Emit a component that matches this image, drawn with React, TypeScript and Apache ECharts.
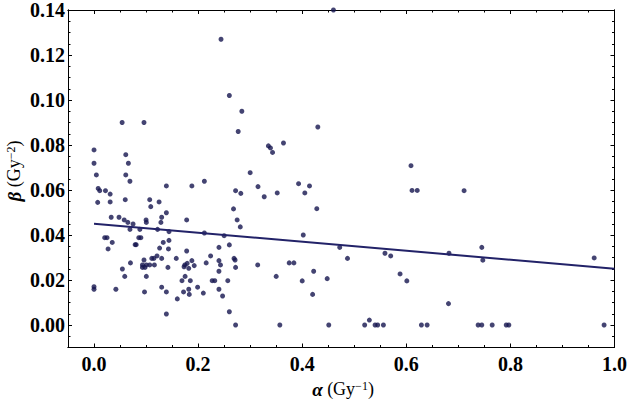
import React, { useEffect, useRef } from "react";
import * as echarts from "echarts";

const alpha = [
  0.244, 0.26, 0.284, 0.277, 0.054, 0.096, 0.335, 0.0, 0.061, 0.0, 0.066, 0.0045, 0.061, 0.3, 0.46, 0.43, 0.339, 0.343, 0.364, 0.609,
  0.327, 0.352, 0.393, 0.414, 0.405, 0.428, 0.611, 0.621, 0.402, 0.472, 0.487, 0.559, 0.57, 0.682, 0.375, 0.384, 0.35, 0.4, 0.422, 0.448,
  0.42, 0.588, 0.601, 0.681, 0.357, 0.451, 0.52, 0.529, 0.54, 0.545, 0.556, 0.629, 0.64,
  0.711, 0.745, 0.747, 0.961, 0.738, 0.745, 0.765, 0.792, 0.797, 0.98,
  0.069, 0.212, 0.008, 0.011, 0.022, 0.031, 0.139, 0.188, 0.315, 0.272, 0.282, 0.007, 0.031, 0.06, 0.107, 0.125, 0.109, 0.139, 0.268, 0.275,
  0.281, 0.033, 0.048, 0.058, 0.065, 0.075, 0.1, 0.1005, 0.13, 0.1285, 0.178, 0.069, 0.088, 0.122, 0.144, 0.212, 0.25, 0.0205, 0.025, 0.086,
  0.09, 0.027, 0.035, 0.079, 0.081, 0.133, 0.144, 0.143, 0.126, 0.24, 0.26, 0.178, 0.121, 0.111, 0.115, 0.13, 0.158, 0.096, 0.07, 0.224,
  0.24, 0.269, 0.271, 0.188, 0.2155, 0.093, 0.093, 0.098, 0.1005, 0.107, 0.116, 0.142, 0.173, 0.1745, 0.179, 0.182, 0.1925, 0.243, 0.272, 0.3145,
  0.0545, 0.059, 0.1005, 0.175, 0.24, 0.169, 0.185, 0.227, 0.232, 0.257, 0.0, 0.0, 0.042, 0.097, 0.13, 0.139, 0.172, 0.182, 0.183, 0.199,
  0.21, 0.24, 0.247, 0.16, 0.139, 0.26, 0.272,
];
const beta = [
  0.127, 0.102, 0.095, 0.086, 0.09, 0.09, 0.0796, 0.0778, 0.0757, 0.0719, 0.0719, 0.0667, 0.0667, 0.0677, 0.14, 0.088, 0.0787, 0.0767, 0.0809, 0.0708,
  0.057, 0.0587, 0.0628, 0.0618, 0.0587, 0.0517, 0.0598, 0.0598, 0.04, 0.0345, 0.0296, 0.0319, 0.0307, 0.0319, 0.0276, 0.0276, 0.0216, 0.0196, 0.0239, 0.0206,
  0.0136, 0.0227, 0.0196, 0.0095, 0.0, 0.0, 0.0, 0.0022, 0.0, 0.0, 0.0, 0.0, 0.0,
  0.0597, 0.0345, 0.0288, 0.0298, 0.0, 0.0, 0.0, 0.0, 0.0, 0.0,
  0.0639, 0.0639, 0.0607, 0.0597, 0.0597, 0.0582, 0.0618, 0.0618, 0.0615, 0.0597, 0.0585, 0.0545, 0.0547, 0.0557, 0.0557, 0.0547, 0.0526, 0.0499, 0.0516, 0.0467,
  0.0436, 0.0479, 0.0479, 0.0467, 0.0456, 0.0449, 0.0467, 0.0456, 0.0479, 0.0456, 0.0467, 0.0425, 0.0425, 0.0425, 0.0415, 0.0409, 0.0397, 0.0388, 0.0388, 0.0388,
  0.0388, 0.0338, 0.0367, 0.0357, 0.0357, 0.0367, 0.0376, 0.0338, 0.0342, 0.0345, 0.0356, 0.0329, 0.0307, 0.0296, 0.0296, 0.0296, 0.0296, 0.0289, 0.0276, 0.0307,
  0.0286, 0.0296, 0.0289, 0.0286, 0.0276, 0.0267, 0.0256, 0.0256, 0.0267, 0.0267, 0.0267, 0.0256, 0.0259, 0.0267, 0.0274, 0.0252, 0.0264, 0.0267, 0.0256, 0.0267,
  0.0249, 0.0216, 0.0216, 0.0216, 0.0239, 0.0197, 0.0197, 0.0197, 0.0197, 0.0197, 0.017, 0.0159, 0.0159, 0.0147, 0.0168, 0.0147, 0.0147, 0.0159, 0.0136, 0.0168,
  0.0142, 0.0159, 0.0129, 0.0116, 0.0049, 0.0059, 0.0,
];
const fitAlpha = [0.0, 1.0];
const fitBeta = [0.045, 0.025];
const xMajorTicks = [0.0, 0.2, 0.4, 0.6, 0.8, 1.0];
const yMajorTicks = [0.0, 0.02, 0.04, 0.06, 0.08, 0.1, 0.12, 0.14];
const xTitle = ["α", " (Gy", "−1", ")"];
const yTitle = ["β", " (Gy", "−2", ")"];

const FONT = "'Liberation Serif', 'Times New Roman', serif";
const INK = "#15154f";

export default function App() {
  const ref = useRef<HTMLDivElement>(null);
  useEffect(() => {
    const chart = echarts.init(ref.current!, null, { renderer: "svg" });
    const axisLine = { show: true, onZero: false, lineStyle: { color: "#000", width: 1 } };
    const xBase = { type: "value", min: -0.05, max: 1.0, splitLine: { show: false }, axisLine };
    const yBase = { type: "value", min: -0.01, max: 0.14, splitLine: { show: false }, axisLine };
    const major = (vals: number[]) => ({ show: true, inside: true, length: 4, customValues: vals, lineStyle: { color: "#000", width: 1 } });
    const minor = { show: true, inside: true, length: 2.5, lineStyle: { color: "#000", width: 1 } };
    const labelStyle = { color: "#000", fontFamily: FONT, fontSize: 20, fontWeight: "bold" };
    const points = alpha.map((a, i) => [a, beta[i]]);
    const fit = fitAlpha.map((a, i) => [a, fitBeta[i]]);
    const rich = {
      a: { fontFamily: FONT, fontSize: 19, fontWeight: "bold", fontStyle: "italic", fill: "#000" },
      t: { fontFamily: FONT, fontSize: 18, fill: "#000" },
      s: { fontFamily: FONT, fontSize: 12, fill: "#000", verticalAlign: "top", padding: [0, 0, 7, 0] },
    };
    const titleText = (p: string[]) => `{a|${p[0]}}{t|${p[1]}}{s|${p[2]}}{t|${p[3]}}`;
    chart.setOption({
      animation: false,
      textStyle: { fontFamily: FONT },
      grid: { left: 68, top: 10, right: 14, bottom: 55.5, containLabel: false },
      graphic: [
        {
          type: "text",
          x: 343,
          y: 389,
          style: { text: titleText(xTitle), rich, align: "center", verticalAlign: "middle", font: `18px ${FONT}`, fill: "#000" },
        },
        {
          type: "text",
          x: 14,
          y: 171,
          rotation: Math.PI / 2,
          style: { text: titleText(yTitle), rich, align: "center", verticalAlign: "middle", font: `18px ${FONT}`, fill: "#000" },
        },
      ],
      xAxis: [
        {
          ...xBase,
          position: "bottom",
          axisTick: major(xMajorTicks),
          axisLabel: { ...labelStyle, margin: 6, customValues: xMajorTicks, formatter: (v: number) => v.toFixed(1) },
        },
        { ...xBase, position: "bottom", interval: 0.05, axisTick: minor, axisLabel: { show: false } },
        { ...xBase, position: "top", axisTick: major(xMajorTicks), axisLabel: { show: false, customValues: xMajorTicks } },
        { ...xBase, position: "top", interval: 0.05, axisTick: minor, axisLabel: { show: false } },
      ],
      yAxis: [
        {
          ...yBase,
          position: "left",
          axisTick: major(yMajorTicks),
          axisLabel: { ...labelStyle, margin: 3, customValues: yMajorTicks, formatter: (v: number) => v.toFixed(2) },
        },
        { ...yBase, position: "left", interval: 0.005, axisTick: minor, axisLabel: { show: false } },
        { ...yBase, position: "right", axisTick: major(yMajorTicks), axisLabel: { show: false, customValues: yMajorTicks } },
        { ...yBase, position: "right", interval: 0.005, axisTick: minor, axisLabel: { show: false } },
      ],
      series: [
        {
          type: "scatter",
          xAxisIndex: 0,
          yAxisIndex: 0,
          data: points,
          symbol: "circle",
          symbolSize: 5,
          itemStyle: { color: INK },
          clip: false,
        },
        {
          type: "line",
          xAxisIndex: 0,
          yAxisIndex: 0,
          data: fit,
          symbol: "none",
          lineStyle: { color: "#222268", width: 2 },
        },
      ],
    });
    return () => chart.dispose();
  }, []);
  return <div ref={ref} style={{ position: "absolute", left: 0, top: 0, width: 630, height: 403 }} />;
}
